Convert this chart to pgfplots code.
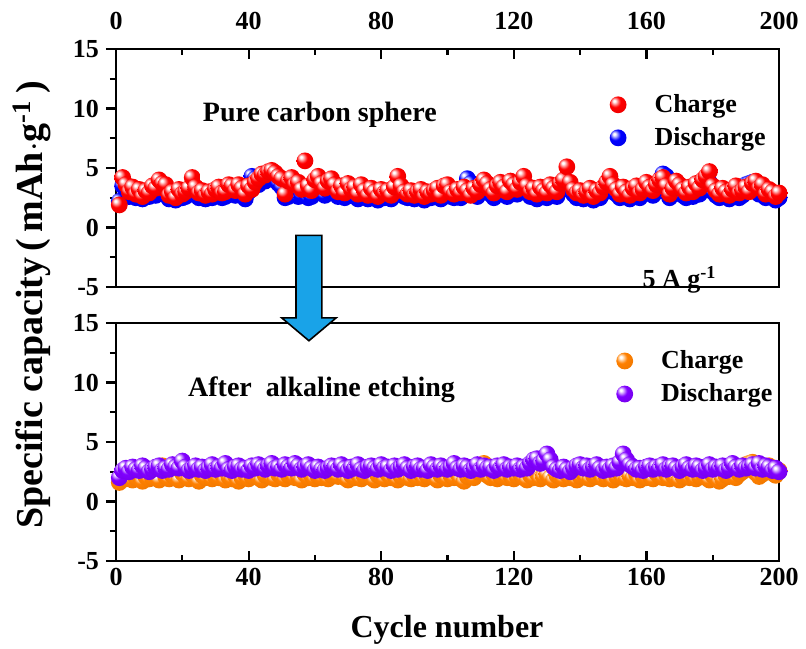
\documentclass[border=0pt]{standalone}
\usepackage{pgfplots}
\usepackage{pgfplotstable}
\pgfplotsset{compat=1.18}
\usepackage{fontspec}
\setmainfont{Liberation Serif}
\definecolor{cRed}{RGB}{255,0,0}
\definecolor{cBlue}{RGB}{0,0,255}
\definecolor{cOrange}{RGB}{255,128,0}
\definecolor{cPurple}{RGB}{128,0,255}
\definecolor{arrowblue}{RGB}{25,163,232}

\pgfdeclareradialshading{shRed}{\pgfqpoint{-12bp}{12bp}}{color(0bp)=(white); color(3bp)=(white); color(16bp)=(cRed); color(40bp)=(cRed!90!black); color(65bp)=(cRed!65!black)}
\pgfdeclareradialshading{shBlue}{\pgfqpoint{-12bp}{12bp}}{color(0bp)=(white); color(3bp)=(white); color(16bp)=(cBlue); color(40bp)=(cBlue!90!black); color(65bp)=(cBlue!65!black)}
\pgfdeclareradialshading{shOrange}{\pgfqpoint{-12bp}{12bp}}{color(0bp)=(white); color(3bp)=(white); color(16bp)=(cOrange); color(40bp)=(cOrange!92!black); color(65bp)=(cOrange!70!black)}
\pgfdeclareradialshading{shPurple}{\pgfqpoint{-12bp}{12bp}}{color(0bp)=(white); color(3bp)=(white); color(16bp)=(cPurple); color(40bp)=(cPurple!90!black); color(65bp)=(cPurple!65!black)}
\pgfdeclareplotmark{bRed}{\pgfpathcircle{\pgfpointorigin}{\pgfplotmarksize}\pgfshadepath{shRed}{0}\pgfusepath{}}
\pgfdeclareplotmark{bBlue}{\pgfpathcircle{\pgfpointorigin}{\pgfplotmarksize}\pgfshadepath{shBlue}{0}\pgfusepath{}}
\pgfdeclareplotmark{bOrange}{\pgfpathcircle{\pgfpointorigin}{\pgfplotmarksize}\pgfshadepath{shOrange}{0}\pgfusepath{}}
\pgfdeclareplotmark{bPurple}{\pgfpathcircle{\pgfpointorigin}{\pgfplotmarksize}\pgfshadepath{shPurple}{0}\pgfusepath{}}

\pgfplotstableread{
cyc c1 d1 c2 d2
1 1.9 2.2 1.6 2.0
2 4.2 3.5 2.1 2.6
3 3.6 3.3 1.9 2.8
4 3.0 2.6 2.3 2.5
5 3.4 2.9 1.8 2.9
6 2.8 2.5 2.0 2.7
7 3.2 2.8 2.2 2.6
8 2.6 2.4 1.7 3.0
9 3.1 2.7 2.1 2.8
10 2.9 2.6 1.9 2.5
11 3.5 2.9 2.0 2.7
12 3.3 2.7 2.3 2.9
13 4.0 3.2 1.8 3.0
14 3.7 3.0 3.0 2.6
15 3.6 2.8 2.1 2.8
16 2.7 2.4 1.9 2.7
17 3.0 2.6 2.2 3.1
18 2.5 2.3 2.0 2.9
19 3.2 2.7 1.8 2.8
20 2.8 2.5 2.4 3.4
21 3.0 2.6 2.1 2.9
22 3.3 2.8 1.9 2.6
23 4.2 3.2 2.3 2.8
24 3.4 2.9 2.0 3.0
25 2.9 2.5 1.7 2.7
26 3.1 2.7 2.2 2.9
27 2.7 2.4 2.0 2.6
28 3.0 2.6 2.4 2.8
29 2.8 2.5 1.9 3.1
30 3.2 2.8 2.1 2.7
31 3.4 2.9 2.0 2.9
32 2.9 2.5 2.3 2.8
33 3.0 2.6 1.8 3.2
34 3.6 3.0 2.1 2.7
35 3.5 2.9 1.9 2.6
36 3.1 2.7 2.2 2.9
37 3.6 3.1 1.7 3.0
38 3.3 2.8 2.0 2.7
39 2.8 2.4 2.3 2.8
40 3.5 3.0 1.9 2.6
41 3.2 4.3 2.1 3.0
42 3.8 4.1 2.4 2.8
43 4.1 3.6 2.0 3.1
44 4.5 4.0 1.8 2.9
45 4.4 3.9 2.2 2.7
46 4.7 4.1 2.5 3.0
47 4.8 4.2 2.0 3.2
48 4.6 4.0 1.9 2.8
49 4.3 3.7 2.3 2.9
50 4.1 3.4 2.1 2.7
51 2.8 2.5 1.9 3.1
52 3.9 2.6 2.2 2.9
53 4.2 3.2 2.4 2.8
54 3.6 2.8 2.0 3.2
55 3.8 2.6 2.1 3.0
56 3.2 2.7 1.8 2.7
57 5.6 3.0 2.3 2.9
58 3.5 2.5 2.0 3.1
59 3.1 2.6 2.2 2.8
60 4.0 3.1 1.9 2.6
61 4.3 3.3 2.1 2.9
62 3.7 3.0 2.0 2.7
63 3.3 2.7 2.4 2.6
64 3.9 3.1 1.9 2.8
65 4.1 3.2 2.2 3.0
66 3.6 2.9 2.5 2.9
67 3.0 2.6 2.1 2.7
68 3.5 2.8 3.0 3.1
69 2.9 2.5 2.0 2.8
70 3.7 3.0 1.8 2.6
71 3.2 2.7 2.2 2.9
72 3.4 2.9 2.0 2.8
73 2.8 2.4 2.3 3.1
74 3.6 3.0 1.9 2.7
75 3.1 2.6 2.1 2.6
76 2.7 2.4 2.4 2.9
77 3.3 2.8 2.0 3.0
78 3.0 2.6 1.8 2.8
79 2.6 2.3 2.2 2.7
80 3.2 2.7 2.1 3.1
81 2.9 2.5 1.9 2.8
82 3.1 2.7 2.3 2.9
83 2.7 2.4 2.0 2.6
84 3.4 2.9 2.2 3.0
85 4.3 3.3 1.8 2.7
86 3.5 2.9 2.1 2.9
87 3.0 2.6 2.4 3.1
88 2.8 2.5 2.0 2.8
89 3.1 2.7 1.9 2.6
90 2.7 2.4 2.2 2.9
91 3.0 2.6 2.0 3.0
92 3.2 2.8 2.3 2.7
93 2.6 2.3 1.9 2.8
94 3.0 2.6 2.1 2.6
95 2.8 2.5 2.5 3.1
96 3.1 2.7 2.0 2.9
97 3.3 2.8 1.8 2.7
98 2.7 2.4 2.2 3.0
99 3.5 3.0 2.1 2.8
100 3.6 3.0 1.9 2.7
101 3.0 2.6 2.2 2.9
102 2.8 2.5 2.0 3.2
103 3.2 2.8 2.4 2.8
104 2.9 2.5 1.9 2.7
105 3.4 2.9 1.7 3.0
106 3.1 4.1 2.1 2.9
107 2.7 3.7 2.3 2.6
108 3.3 2.8 2.0 2.8
109 3.0 2.6 2.5 3.1
110 3.6 3.0 2.8 2.7
111 4.0 3.3 3.2 3.0
112 3.7 3.1 2.2 2.8
113 3.2 2.8 2.0 2.9
114 2.9 2.5 2.3 2.6
115 3.5 3.0 1.9 3.0
116 3.8 3.2 2.1 2.8
117 3.4 2.9 2.4 3.1
118 3.0 2.6 2.0 2.7
119 3.9 3.2 2.2 2.9
120 3.6 3.0 1.9 2.8
121 3.2 2.8 2.1 3.0
122 3.8 3.1 2.3 2.7
123 4.3 3.4 2.0 2.9
124 3.5 3.0 1.8 2.8
125 3.0 2.6 2.2 3.2
126 3.3 2.8 2.0 3.5
127 2.8 2.4 2.4 3.6
128 3.4 2.9 1.9 3.2
129 3.1 2.7 2.1 3.4
130 2.9 2.5 2.3 4.0
131 3.6 3.0 2.0 3.5
132 3.3 2.8 1.8 2.9
133 3.0 2.6 2.2 2.7
134 3.7 3.1 2.1 2.6
135 4.0 3.3 1.9 2.9
136 5.1 3.9 2.3 2.7
137 3.8 3.2 2.0 2.5
138 3.2 2.8 2.2 2.8
139 2.9 2.5 1.8 3.0
140 3.1 2.7 2.1 3.1
141 2.7 2.4 2.4 2.8
142 3.0 2.6 2.0 3.0
143 3.3 2.8 1.9 2.7
144 2.6 2.3 2.2 2.9
145 3.1 2.7 2.1 3.1
146 2.9 2.5 2.3 2.8
147 3.4 2.9 1.9 2.6
148 3.8 3.2 2.0 2.9
149 4.3 3.5 2.2 2.7
150 3.6 3.0 1.8 3.0
151 3.2 2.8 2.1 2.8
152 2.8 2.5 2.4 3.3
153 3.4 2.9 2.0 4.0
154 3.0 2.6 1.9 3.5
155 2.7 2.4 2.2 3.1
156 3.3 2.8 2.0 2.9
157 3.5 3.0 2.3 2.7
158 2.9 2.5 1.8 2.8
159 3.2 2.8 2.1 2.6
160 3.8 3.6 2.0 2.9
161 3.4 2.9 2.2 3.0
162 3.1 2.7 1.9 2.7
163 3.6 3.0 2.4 2.9
164 4.0 3.4 2.1 2.8
165 4.2 4.5 2.0 3.1
166 3.5 4.3 2.3 2.7
167 2.8 2.5 1.9 2.9
168 3.3 2.8 2.2 3.0
169 3.9 3.2 2.0 2.8
170 3.6 3.0 1.8 2.6
171 3.2 2.7 2.1 2.9
172 2.9 2.5 2.3 3.1
173 3.4 2.9 2.0 2.8
174 3.0 2.6 2.2 2.7
175 3.7 3.1 1.9 3.0
176 3.3 2.8 2.1 2.9
177 4.0 3.3 2.4 2.6
178 4.3 3.5 2.0 2.8
179 4.7 3.8 1.8 3.1
180 3.5 3.0 2.2 2.7
181 3.1 2.7 2.0 2.9
182 2.8 2.5 1.7 2.8
183 3.3 2.8 1.9 3.0
184 3.0 2.6 2.2 2.6
185 2.7 2.4 2.1 2.8
186 3.2 2.8 2.4 3.2
187 3.5 3.0 2.0 2.9
188 2.9 2.5 2.3 2.7
189 3.1 2.7 2.5 3.0
190 3.4 3.6 3.1 2.8
191 3.0 3.7 3.2 2.9
192 3.7 3.8 3.3 3.1
193 3.9 3.2 2.4 2.8
194 3.3 2.8 2.1 3.2
195 3.6 3.1 2.3 2.7
196 2.8 2.5 2.8 3.0
197 3.2 2.8 3.0 2.9
198 3.0 2.6 2.4 2.6
199 2.6 2.3 2.2 2.8
200 2.9 2.5 2.6 2.5
}\datatab

\pgfplotsset{
  panel/.style={
    scale only axis, width=331.5pt, height=119pt,
    xmin=0, xmax=200, ymin=-5, ymax=15,
    xtick={0,40,...,200}, ytick={-5,0,...,15},
    minor x tick num=1, minor y tick num=1,
    axis line style={line width=1.3pt},
    every tick/.style={black, line width=1.1pt},
    major tick length=5pt, minor tick length=3pt,
    ytick pos=left, ytick align=outside,
    tick label style={font=\bfseries\fontsize{13}{13}\selectfont},
    /pgf/number format/assume math mode=true,
    clip=false,
    legend cell align=left,
    legend style={draw=none, fill=none, font=\bfseries\fontsize{13}{15}\selectfont,
      row sep=2pt, /tikz/every odd column/.style={column sep=12pt}},
  },
}

\begin{document}
\begin{tikzpicture}
\path[use as bounding box] (-58pt,24.5pt) rectangle (345pt,-299.5pt);
\begin{axis}[panel, name=top, at={(0pt,0pt)}, anchor=north west,
  xtick pos=top, xtick align=inside, xticklabel pos=top,
  xticklabel style={yshift=6pt},
  reverse legend,
  legend style={at={(rel axis cs:0.735,0.845)}, anchor=north west}]
\addplot[only marks, mark=bBlue, mark size=4.2pt] table[x=cyc, y=d1] {\datatab};
\addlegendentry{Discharge}
\addplot[only marks, mark=bRed, mark size=4.2pt] table[x=cyc, y=c1] {\datatab};
\addlegendentry{Charge}
\node[font=\bfseries\fontsize{14}{14}\selectfont] at (axis cs:61.5,9.5) {Pure carbon sphere};
\node[font=\bfseries\fontsize{13}{13}\selectfont] at (axis cs:170,-4.4) {5 A g\textsuperscript{-1}};
\end{axis}
\begin{axis}[panel, name=bottom, at={(0pt,-137pt)}, anchor=north west,
  xtick pos=bottom, xtick align=inside,
  legend style={at={(rel axis cs:0.745,0.92)}, anchor=north west}]
\addplot[only marks, mark=bOrange, mark size=4.2pt] table[x=cyc, y=c2] {\datatab};
\addlegendentry{Charge}
\addplot[only marks, mark=bPurple, mark size=4.2pt] table[x=cyc, y=d2] {\datatab};
\addlegendentry{Discharge}
\node[font=\bfseries\fontsize{14}{14}\selectfont] at (axis cs:62,9.4) {After\ \ alkaline etching};
\draw[line width=0.8pt, fill=arrowblue]
  (axis cs:54.3,22.36) -- (axis cs:62.1,22.36) -- (axis cs:62.1,15.43) -- (axis cs:66.4,15.43)
  -- (axis cs:58.2,13.51) -- (axis cs:50.0,15.43) -- (axis cs:54.3,15.43) -- cycle;
\end{axis}
\node[rotate=90, font=\bfseries\fontsize{19}{19}\selectfont] at (-42pt,-128pt) {Specific capacity\,(\,mAh$\cdot$g\textsuperscript{-1}\,)};
\node[font=\bfseries\fontsize{16}{16}\selectfont] at (165.5pt,-290.5pt) {Cycle number};
\end{tikzpicture}
\end{document}
